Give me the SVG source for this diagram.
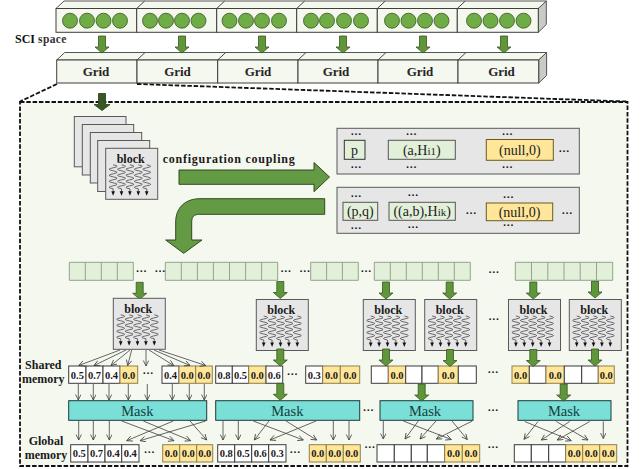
<svg xmlns="http://www.w3.org/2000/svg" width="643" height="469" viewBox="0 0 643 469">
<style>
text{font-family:"Liberation Serif","Times New Roman",serif;fill:#1a1a1a}
.b{font-weight:bold}
.g{font-weight:bold;font-size:13px;text-anchor:middle;fill:#262626}
.bl{font-weight:bold;font-size:12px;text-anchor:middle}
.lab{font-weight:bold;font-size:12px;text-anchor:middle}
.v{font-weight:bold;font-size:10.500px;text-anchor:middle}
.d{font-weight:bold;font-size:11px;text-anchor:middle;fill:#111}
.t{font-size:14px;text-anchor:middle;fill:#222}
.m{font-size:14.500px;text-anchor:middle;fill:#123f3f}
.f{fill:#f5f8ef;stroke:#3f3f3f;stroke-width:1}
.top{fill:#f5f8ef;stroke:#555;stroke-width:1}
.side{fill:#c9ccc6;stroke:#555;stroke-width:1}
.c{fill:#6fac46;stroke:#375623;stroke-width:.8}
.fat{fill:#659a45;stroke:#2f4a1e;stroke-width:1}
.blk{fill:#e6e6e6;stroke:#595959;stroke-width:1}
.gray{fill:#e6e6e6;stroke:#595959;stroke-width:1}
.gb{fill:#e2efd9;stroke:#333;stroke-width:1}
.gb2{fill:#e2efd9;stroke:#555;stroke-width:1}
.y{fill:#ffe699;stroke:#6b5a20;stroke-width:1}
.tp{fill:#e2efd9;stroke:#94a38b;stroke-width:1}
.w{fill:#fff;stroke:#3a3a3a;stroke-width:1}
.yc{fill:#ffe699;stroke:#8c8150;stroke-width:1}
.mk{fill:#7adfd6;stroke:#1d3a3a;stroke-width:1}
.ln{stroke:#404040;stroke-width:.8;fill:none;marker-end:url(#h)}
.dash{fill:none;stroke:#111;stroke-width:1.800;stroke-dasharray:4.500 1.800}
</style>
<defs>
<marker id="h" markerWidth="8" markerHeight="8" refX="6" refY="3" orient="auto" markerUnits="userSpaceOnUse"><path d="M0.500 0.300L6 3L0.500 5.700" fill="none" stroke="#404040" stroke-width=".8"/></marker>
<path id="da" d="M-3.500 0H3.500V11H7L0 17L-7 11H-3.500Z" fill="#5f9639" stroke="#375623" stroke-width=".8"/>
<g id="wv"><path d="M0 0q8 1.500 0 3t0 3t0 3t0 3t0 3t0 3t0 3t0 3v3" fill="none" stroke="#333" stroke-width=".7"/><path d="M-1.800 26.500H1.800L0 31Z" fill="#111"/></g>
<g id="blockbox">
<rect class="blk" x="0" y="0" width="52" height="51"/>
<use href="#wv" x="7.400" y="16.500"/><use href="#wv" x="15.800" y="16.500"/><use href="#wv" x="24.200" y="16.500"/><use href="#wv" x="32.600" y="16.500"/><use href="#wv" x="41" y="16.500"/>
<text class="bl" x="25" y="14.500">block</text>
</g>
</defs>

<rect id="panel" x="20" y="102" width="607.500" height="364" fill="#f5f8ef" stroke="none"/>

<g id="sci-space">
<path class="top" d="M56 8.500L64 1H546.300L538.300 8.500Z"/>
<path class="side" d="M538.300 8.500L546.300 1V24.500L538.300 32.300Z"/>
<rect class="f" x="56" y="8.500" width="80.700" height="23.800"/><rect class="f" x="136.700" y="8.500" width="80" height="23.800"/><rect class="f" x="216.700" y="8.500" width="80" height="23.800"/><rect class="f" x="296.700" y="8.500" width="80.600" height="23.800"/><rect class="f" x="377.300" y="8.500" width="80" height="23.800"/><rect class="f" x="457.300" y="8.500" width="81" height="23.800"/>
<path d="M136.700 8.500L144.700 1M216.700 8.500L224.700 1M296.700 8.500L304.700 1M377.300 8.500L385.300 1M457.300 8.500L465.300 1" stroke="#444" fill="none"/>
<g>
<circle class="c" cx="70" cy="20.700" r="7.500"/><circle class="c" cx="87" cy="20.700" r="7.500"/><circle class="c" cx="103.500" cy="20.700" r="7.500"/><circle class="c" cx="120" cy="20.700" r="7.500"/>
<circle class="c" cx="150" cy="20.700" r="7.500"/><circle class="c" cx="166" cy="20.700" r="7.500"/><circle class="c" cx="182" cy="20.700" r="7.500"/><circle class="c" cx="198.500" cy="20.700" r="7.500"/>
<circle class="c" cx="229.500" cy="20.700" r="7.500"/><circle class="c" cx="246" cy="20.700" r="7.500"/><circle class="c" cx="262" cy="20.700" r="7.500"/><circle class="c" cx="279" cy="20.700" r="7.500"/>
<circle class="c" cx="311" cy="20.700" r="7.500"/><circle class="c" cx="327" cy="20.700" r="7.500"/><circle class="c" cx="344" cy="20.700" r="7.500"/><circle class="c" cx="361" cy="20.700" r="7.500"/>
<circle class="c" cx="392" cy="20.700" r="7.500"/><circle class="c" cx="408.500" cy="20.700" r="7.500"/><circle class="c" cx="425" cy="20.700" r="7.500"/><circle class="c" cx="441.500" cy="20.700" r="7.500"/>
<circle class="c" cx="474" cy="20.700" r="7.500"/><circle class="c" cx="490.500" cy="20.700" r="7.500"/><circle class="c" cx="507" cy="20.700" r="7.500"/><circle class="c" cx="523.500" cy="20.700" r="7.500"/>
</g>
<text x="15" y="43" font-size="12"><tspan class="b" font-size="12" fill="#111">SCI</tspan><tspan class="b" font-size="11.500" dx="3" fill="#333" letter-spacing=".4">space</tspan></text>
</g>

<g id="grid-row">
<path class="top" d="M56.700 60L64.700 52.500H546.600L538.700 60Z"/>
<path class="side" d="M538.700 60L546.600 52.500V75.500L538.700 83Z"/>
<rect class="f" x="56.700" y="60" width="80.300" height="23"/><rect class="f" x="137" y="60" width="80.700" height="23"/><rect class="f" x="217.700" y="60" width="80.300" height="23"/><rect class="f" x="298" y="60" width="80" height="23"/><rect class="f" x="378" y="60" width="80" height="23"/><rect class="f" x="458" y="60" width="80.700" height="23"/>
<path d="M137 60L145 52.500M217.700 60L225.700 52.500M298 60L306 52.500M378 60L386 52.500M458 60L466 52.500" stroke="#444" fill="none"/>
<text class="g" x="96" y="76">Grid</text><text class="g" x="177.500" y="76">Grid</text><text class="g" x="258" y="76">Grid</text><text class="g" x="336" y="76">Grid</text><text class="g" x="420" y="76">Grid</text><text class="g" x="501.500" y="76">Grid</text>
</g>

<g id="zoom-outline">
<rect class="dash" x="20" y="102" width="607.500" height="364"/>
<path class="dash" d="M57 84L20 101.500M137 84L627 101.500"/>
</g>

<g id="stack">
<rect class="blk" x="74.300" y="116.500" width="51.700" height="50.300"/>
<rect class="blk" x="82.300" y="124.500" width="51.400" height="50.500"/>
<rect class="blk" x="90.300" y="132.500" width="51.400" height="50.500"/>
<rect class="blk" x="97.700" y="140.500" width="52" height="51"/>
<use href="#blockbox" x="105.700" y="148.300"/>
</g>

<text id="coupling-label" class="b" x="162.700" y="162.500" font-size="12" textLength="132" fill="#1a1a1a">configuration coupling</text>

<g id="table-1">
<rect class="gray" x="337" y="128.300" width="242.300" height="45.700"/>
<rect class="gb" x="344.300" y="140.300" width="20.700" height="19"/><text class="t" x="354.600" y="155">p</text>
<rect class="gb2" x="388.300" y="140.300" width="67" height="19"/><text class="t" x="421.800" y="155">(a,H<tspan font-size="11">i1</tspan>)</text>
<rect class="y" x="486.300" y="139.500" width="67" height="20.800"/><text class="t" x="519.800" y="155">(null,0)</text>
<text class="d" x="356" y="135">…</text><text class="d" x="411.300" y="135">…</text><text class="d" x="507.300" y="135">…</text>
<text class="d" x="356" y="167.700">…</text><text class="d" x="411.300" y="167.700">…</text><text class="d" x="507.300" y="167.700">…</text>
<text class="d" x="564" y="151.700">…</text>
</g>
<g id="table-2">
<rect class="gray" x="337" y="187.300" width="242.300" height="46"/>
<rect class="gb2" x="343" y="202.300" width="34.700" height="18"/><text class="t" x="360.300" y="216">(p,q)</text>
<rect class="gb2" x="389" y="202.300" width="66.300" height="18"/><text class="t" x="422.200" y="216">((a,b),H<tspan font-size="11">ik</tspan>)</text>
<rect class="y" x="486.300" y="203" width="66.400" height="17.700"/><text class="t" x="519.500" y="217">(null,0)</text>
<text class="d" x="356" y="196.700">…</text><text class="d" x="413" y="196">…</text><text class="d" x="508.300" y="198.300">…</text>
<text class="d" x="356" y="229">…</text><text class="d" x="413" y="228">…</text><text class="d" x="508.300" y="226">…</text>
<text class="d" x="471" y="214.300">…</text><text class="d" x="567" y="214.300">…</text>
</g>

<g id="flow-arrows">
<path class="fat" d="M179 170H314V162.500L329.500 177L314 191.700V184.300H179Z"/>
<path class="fat" d="M324.700 198.700H200C185 198.700 175.700 208 175.700 222V240H165.700L183.700 253.300L202 240H191.700V222C191.700 217 194 214.300 199.300 214.300H324.700Z"/>
<use href="#da" x="102" y="36"/><use href="#da" x="182" y="36"/><use href="#da" x="262" y="36"/><use href="#da" x="343" y="36"/><use href="#da" x="423" y="36"/><use href="#da" x="504" y="36"/>
<path d="M98.500 93.500H105.500V104.500H110L102 110.500L94 104.500H98.500Z" fill="#385723" stroke="#263d18" stroke-width=".8"/>
<use href="#da" x="139.700" y="282.300"/><use href="#da" x="280.300" y="281.500"/><use href="#da" x="386" y="282"/><use href="#da" x="449.700" y="282"/><use href="#da" x="533.300" y="282"/><use href="#da" x="595" y="281"/>
</g>

<g id="tapes">
<path class="tp" d="M69.300 262.300H133.300V280.300H69.300ZM85.300 262.300V280.300M101.300 262.300V280.300M117.300 262.300V280.300"/>
<path class="tp" d="M165.300 262.300H277.700V280.300H165.300ZM181.300 262.300V280.300M197.400 262.300V280.300M213.400 262.300V280.300M229.500 262.300V280.300M245.600 262.300V280.300M261.600 262.300V280.300"/>
<path class="tp" d="M310.700 262.300H358.300V280.300H310.700ZM326.600 262.300V280.300M342.400 262.300V280.300"/>
<path class="tp" d="M374.300 262.300H470.300V280.300H374.300ZM390.300 262.300V280.300M406.300 262.300V280.300M422.300 262.300V280.300M438.300 262.300V280.300M454.300 262.300V280.300"/>
<path class="tp" d="M515.300 262.300H612.700V280.300H515.300ZM531.500 262.300V280.300M547.800 262.300V280.300M564 262.300V280.300M580.200 262.300V280.300M596.500 262.300V280.300"/>
<text class="d" x="141.300" y="271.700">…</text><text class="d" x="160" y="271.700">…</text><text class="d" x="285.700" y="271.700">…</text><text class="d" x="304.700" y="271.700">…</text><text class="d" x="366" y="271.700">…</text><text class="d" x="493.700" y="272.700">…</text>
</g>

<g id="block-1"><use href="#blockbox" x="113.300" y="298.300"/></g>
<g id="block-2"><use href="#blockbox" x="256.300" y="299.500"/></g>
<g id="block-3"><use href="#blockbox" x="363.300" y="299.500"/></g>
<g id="block-4"><use href="#blockbox" x="424.700" y="299.500"/></g>
<g id="block-5"><use href="#blockbox" x="508.500" y="299.500"/></g>
<g id="block-6"><use href="#blockbox" x="569.300" y="299.500"/></g>
<text class="d" x="493.700" y="320">…</text>

<g id="shared-memory">
<text class="lab" x="43.300" y="369">Shared</text><text class="lab" x="43.300" y="383.300">memory</text>
<rect class="w" x="68.700" y="366" width="17.300" height="17.300"/><text class="v" x="77.400" y="378.500">0.5</text>
<rect class="w" x="86" y="366" width="17" height="17.300"/><text class="v" x="94.500" y="378.500">0.7</text>
<rect class="w" x="103" y="366" width="17" height="17.300"/><text class="v" x="111.500" y="378.500">0.4</text>
<rect class="yc" x="120" y="366" width="17.700" height="17.300"/><text class="v" x="128.800" y="378.500">0.0</text>
<text class="d" x="148" y="374">…</text>
<rect class="w" x="162" y="366" width="17" height="17.300"/><text class="v" x="170.500" y="378.500">0.4</text>
<rect class="yc" x="179" y="366" width="16.700" height="17.300"/><text class="v" x="187.300" y="378.500">0.0</text>
<rect class="yc" x="195.700" y="366" width="16.600" height="17.300"/><text class="v" x="204" y="378.500">0.0</text>

<rect class="w" x="215.700" y="366" width="16.600" height="17.300"/><text class="v" x="224" y="378.500">0.8</text>
<rect class="w" x="232.300" y="366" width="16.400" height="17.300"/><text class="v" x="240.500" y="378.500">0.5</text>
<rect class="yc" x="248.700" y="366" width="17.300" height="17.300"/><text class="v" x="257.300" y="378.500">0.0</text>
<rect class="w" x="266" y="366" width="16.700" height="17.300"/><text class="v" x="274.300" y="378.500">0.6</text>
<text class="d" x="292.300" y="374.700">…</text>
<rect class="w" x="305.700" y="366" width="17" height="17.300"/><text class="v" x="314.200" y="378.500">0.3</text>
<rect class="yc" x="322.700" y="366" width="17.600" height="17.300"/><text class="v" x="331.500" y="378.500">0.0</text>
<rect class="yc" x="340.300" y="366" width="19.400" height="17.300"/><text class="v" x="350" y="378.500">0.0</text>

<rect class="w" x="371.300" y="366" width="17" height="17.300"/>
<rect class="yc" x="388.300" y="366" width="17.400" height="17.300"/><text class="v" x="397" y="378.500">0.0</text>
<rect class="w" x="405.700" y="366" width="16.300" height="17.300"/>
<rect class="w" x="422" y="366" width="16.300" height="17.300"/>
<rect class="yc" x="438.300" y="366" width="20" height="17.300"/><text class="v" x="448.300" y="378.500">0.0</text>
<rect class="w" x="458.300" y="366" width="18" height="17.300"/>
<text class="d" x="493" y="372.700">…</text>

<rect class="yc" x="512" y="366" width="17.300" height="17.300"/><text class="v" x="520.600" y="378.500">0.0</text>
<rect class="w" x="529.300" y="366" width="16.700" height="17.300"/>
<rect class="yc" x="546" y="366" width="18.300" height="17.300"/><text class="v" x="555.200" y="378.500">0.0</text>
<rect class="w" x="564.300" y="366" width="17.400" height="17.300"/>
<rect class="w" x="581.700" y="366" width="16.600" height="17.300"/>
<rect class="yc" x="598.300" y="366" width="16" height="17.300"/><text class="v" x="606.300" y="378.500">0.0</text>
</g>

<g id="masks">
<rect class="mk" x="68.700" y="400.700" width="138" height="19.600"/><text class="m" x="137.300" y="415.500">Mask</text>
<rect class="mk" x="215.700" y="400.700" width="144" height="19.600"/><text class="m" x="287.300" y="415.500">Mask</text>
<rect class="mk" x="380" y="400.700" width="93" height="19.600"/><text class="m" x="425" y="415.500">Mask</text>
<rect class="mk" x="518" y="400.700" width="93" height="19.600"/><text class="m" x="564" y="415.500">Mask</text>
<text class="d" x="368.300" y="411">…</text><text class="d" x="493" y="411">…</text>
</g>

<g id="global-memory">
<text class="lab" x="46" y="445">Global</text><text class="lab" x="46" y="459">memory</text>
<rect class="w" x="70.700" y="444.700" width="17.300" height="17.300"/><text class="v" x="79.300" y="457">0.5</text>
<rect class="w" x="88" y="444.700" width="17" height="17.300"/><text class="v" x="96.500" y="457">0.7</text>
<rect class="w" x="105" y="444.700" width="16.700" height="17.300"/><text class="v" x="113.300" y="457">0.4</text>
<rect class="w" x="121.700" y="444.700" width="17.300" height="17.300"/><text class="v" x="130.300" y="457">0.4</text>
<text class="d" x="149.300" y="453.300">…</text>
<rect class="yc" x="162.700" y="444.700" width="17" height="17.300"/><text class="v" x="171.200" y="457">0.0</text>
<rect class="yc" x="179.700" y="444.700" width="17" height="17.300"/><text class="v" x="188.200" y="457">0.0</text>
<rect class="yc" x="196.700" y="444.700" width="16" height="17.300"/><text class="v" x="204.700" y="457">0.0</text>

<rect class="w" x="217.700" y="444.700" width="17" height="17.300"/><text class="v" x="226.200" y="457">0.8</text>
<rect class="w" x="234.700" y="444.700" width="17" height="17.300"/><text class="v" x="243.200" y="457">0.5</text>
<rect class="w" x="251.700" y="444.700" width="17" height="17.300"/><text class="v" x="260.200" y="457">0.6</text>
<rect class="w" x="268.700" y="444.700" width="17.300" height="17.300"/><text class="v" x="277.300" y="457">0.3</text>
<text class="d" x="295" y="453.300">…</text>
<rect class="yc" x="309.300" y="444.700" width="17" height="17.300"/><text class="v" x="317.800" y="457">0.0</text>
<rect class="yc" x="326.300" y="444.700" width="17" height="17.300"/><text class="v" x="334.800" y="457">0.0</text>
<rect class="yc" x="343.300" y="444.700" width="17" height="17.300"/><text class="v" x="351.800" y="457">0.0</text>
<text class="d" x="369.700" y="447.700">…</text>

<rect class="w" x="377" y="444.700" width="17.300" height="17.300"/>
<rect class="w" x="394.300" y="444.700" width="17" height="17.300"/>
<rect class="w" x="411.300" y="444.700" width="16" height="17.300"/>
<rect class="w" x="427.300" y="444.700" width="17.400" height="17.300"/>
<rect class="yc" x="444.700" y="444.700" width="17.600" height="17.300"/><text class="v" x="453.500" y="457">0.0</text>
<rect class="yc" x="462.300" y="444.700" width="17.400" height="17.300"/><text class="v" x="471" y="457">0.0</text>
<text class="d" x="493" y="447.700">…</text>

<rect class="w" x="514.300" y="444.700" width="17" height="17.300"/>
<rect class="w" x="531.300" y="444.700" width="17.400" height="17.300"/>
<rect class="w" x="548.700" y="444.700" width="17" height="17.300"/>
<rect class="yc" x="565.700" y="444.700" width="17" height="17.300"/><text class="v" x="574.200" y="457">0.0</text>
<rect class="yc" x="582.700" y="444.700" width="17" height="17.300"/><text class="v" x="591.200" y="457">0.0</text>
<rect class="yc" x="599.700" y="444.700" width="17" height="17.300"/><text class="v" x="608.200" y="457">0.0</text>
</g>

<g id="lower-fat-arrows">
<use href="#da" x="280.300" y="349"/><use href="#da" x="280.300" y="383.300"/>
<use href="#da" x="386" y="349"/><use href="#da" x="421.700" y="384"/><use href="#da" x="450" y="349.500"/>
<use href="#da" x="533.300" y="349.500"/><use href="#da" x="595" y="349"/><use href="#da" x="563.700" y="384"/>
</g>

<g id="connectors">
<line class="ln" x1="120" y1="350" x2="78.700" y2="365.500"/><line class="ln" x1="126" y1="350" x2="94" y2="365.500"/><line class="ln" x1="130" y1="350" x2="111" y2="365.500"/><line class="ln" x1="131.700" y1="350" x2="127.700" y2="365.500"/><line class="ln" x1="146" y1="350" x2="146" y2="366"/><line class="ln" x1="149" y1="350" x2="173.700" y2="365.500"/><line class="ln" x1="154" y1="350" x2="190" y2="365.500"/><line class="ln" x1="159" y1="350" x2="205.700" y2="365.500"/>
<line class="ln" x1="78.300" y1="384" x2="78.300" y2="400"/><line class="ln" x1="93.300" y1="384" x2="93.300" y2="400"/><line class="ln" x1="109" y1="384" x2="109" y2="400"/><line class="ln" x1="128.300" y1="384" x2="128.300" y2="400"/><line class="ln" x1="147.300" y1="384" x2="147.300" y2="400"/><line class="ln" x1="172.300" y1="384" x2="172.300" y2="400"/><line class="ln" x1="189.300" y1="384" x2="189.300" y2="400"/><line class="ln" x1="204.300" y1="384" x2="204.300" y2="400"/>
<line class="ln" x1="78.700" y1="421" x2="78.700" y2="440"/><line class="ln" x1="93.300" y1="421" x2="93.300" y2="440"/><line class="ln" x1="109.300" y1="421" x2="109.300" y2="440"/><line class="ln" x1="121.700" y1="421" x2="174" y2="440.700"/><line class="ln" x1="143.300" y1="421" x2="190.700" y2="440.700"/><line class="ln" x1="173.300" y1="421" x2="126.700" y2="440.700"/><line class="ln" x1="205.700" y1="421" x2="140" y2="440.700"/><line class="ln" x1="190" y1="421" x2="206.700" y2="440"/>
<line class="ln" x1="223" y1="421" x2="223" y2="440"/><line class="ln" x1="238.300" y1="421" x2="238.300" y2="440"/><line class="ln" x1="253.300" y1="421" x2="303.300" y2="440"/><line class="ln" x1="286" y1="421" x2="316.700" y2="440"/><line class="ln" x1="269" y1="421" x2="254.300" y2="440"/><line class="ln" x1="316" y1="421" x2="270" y2="440"/><line class="ln" x1="333.300" y1="421" x2="333.300" y2="440"/><line class="ln" x1="349" y1="421" x2="349" y2="440"/>
<line class="ln" x1="383.300" y1="421" x2="383.300" y2="439"/><line class="ln" x1="418.300" y1="421" x2="405" y2="439"/><line class="ln" x1="436" y1="421" x2="420" y2="439"/><line class="ln" x1="403.300" y1="421" x2="451.300" y2="439.500"/><line class="ln" x1="452" y1="421" x2="467.300" y2="439.500"/><line class="ln" x1="472.300" y1="421" x2="436.300" y2="439"/>
<line class="ln" x1="524.700" y1="421.500" x2="571.300" y2="440.700"/><line class="ln" x1="538" y1="421.500" x2="524" y2="439.300"/><line class="ln" x1="556.300" y1="421.500" x2="588" y2="440"/><line class="ln" x1="569.700" y1="421.500" x2="541.300" y2="440"/><line class="ln" x1="589.700" y1="421.500" x2="557.300" y2="440"/><line class="ln" x1="603.300" y1="421.500" x2="603.300" y2="438.500"/>
</g>
</svg>
